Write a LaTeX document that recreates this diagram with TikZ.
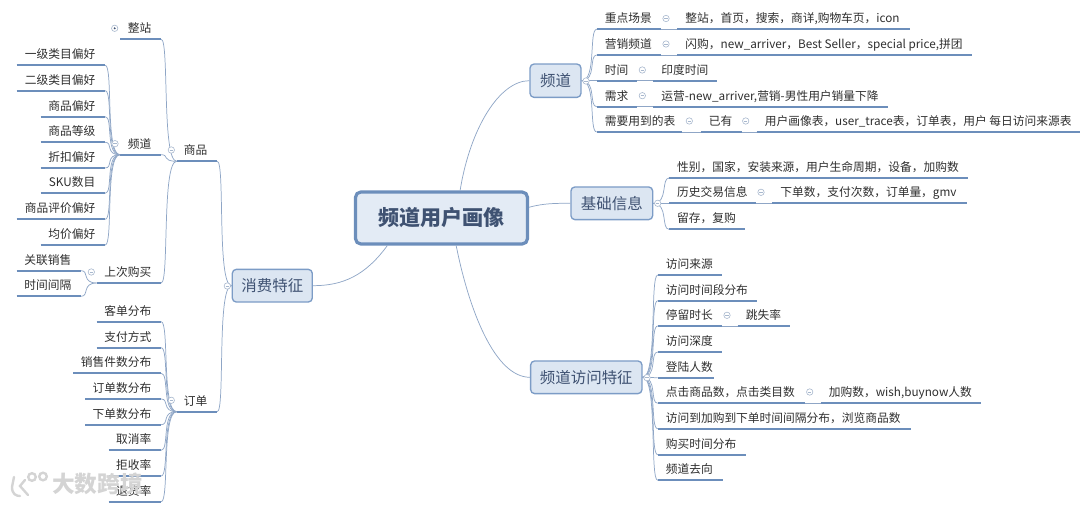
\documentclass[tikz,border=0pt]{standalone}
\usepackage{fontspec}
\setmainfont{Noto Sans CJK SC}
\usetikzlibrary{calc}
\definecolor{linkc}{HTML}{8FA6C6}
\definecolor{ulc}{HTML}{6C8EBB}
\definecolor{boxfill}{HTML}{DCE6F2}
\definecolor{boxline}{HTML}{7C9CC6}
\definecolor{txtc}{HTML}{2E2E2E}
\definecolor{headc}{HTML}{3F5272}
\definecolor{foldc}{HTML}{A8B8CE}
\definecolor{wmc}{HTML}{D4D4D4}
\tikzset{
  leaf/.style={inner xsep=0pt,inner ysep=0pt,text depth=4.6pt,text height=9pt,text=txtc,font=\fontsize{8.8pt}{10pt}\selectfont,
    append after command={(\tikzlastnode.south west) edge[uline] (\tikzlastnode.south east)}},
  uline/.style={draw=ulc,line width=1.5pt},
  link/.style={draw=linkc,line width=0.55pt},
  fold/.style={circle,draw=foldc,fill=white,line width=0.45pt,minimum size=4.8pt,inner sep=0pt,
    path picture={\draw[foldc,line width=0.4pt] ([xshift=-1.2pt]path picture bounding box.center) -- ([xshift=1.2pt]path picture bounding box.center);}},
  folddot/.style={circle,draw=foldc,fill=white,line width=0.45pt,minimum size=4.8pt,inner sep=0pt,
    path picture={\fill[headc] (path picture bounding box.center) circle (0.8pt);}},
  branch/.style={draw=boxline,fill=boxfill,rounded corners=3pt,line width=1pt,text=headc,anchor=center,inner sep=0pt,font=\fontsize{11.6pt}{13pt}\selectfont},
  mainbox/.style={draw=ulc,fill=boxfill!80!white,rounded corners=4pt,line width=2.4pt,text=headc,inner sep=0pt,font=\fontsize{15.8pt}{18pt}\selectfont\bfseries},
  wm/.style={text=wmc,inner sep=0pt,font=\fontsize{17pt}{19pt}\selectfont\bfseries}
}
% right-side topic: name, x1, x2, y, text
\newcommand{\topR}[5]{\pgfmathsetmacro{\boxw}{(#3-#2)*0.75}\node[leaf,anchor=south west] (#1) at (#2,#4) {\makebox[\boxw pt][l]{\hspace{5.9pt}#5}};}
% left-side topic: name, x1, x2, y, text
\newcommand{\topL}[5]{\pgfmathsetmacro{\boxw}{(#3-#2)*0.75}\node[leaf,anchor=south west] (#1) at (#2,#4) {\makebox[\boxw pt][r]{#5\hspace{7.3pt}}};}
% connectors
\newcommand{\linkR}[2]{\draw[link] (#1) .. controls +(15,0) and ($(#2.south west)+(-8,0)$) .. (#2.south west);}
\newcommand{\linkL}[2]{\draw[link] (#1) .. controls +(-15,0) and ($(#2.south east)+(8,0)$) .. (#2.south east);}
\begin{document}
\begin{tikzpicture}[x=0.75pt,y=-0.75pt]
\useasboundingbox (0,0) rectangle (1080,505);
% central and main branches
\node[mainbox,minimum width=129pt,minimum height=39pt] (main) at (441.5,218) {频道用户画像};
\node[branch,minimum width=38.2pt,minimum height=25pt] (pd) at (555.5,80.7) {频道};
\node[branch,minimum width=61.3pt,minimum height=24.5pt] (jc) at (611.8,203.3) {基础信息};
\node[branch,minimum width=83.5pt,minimum height=24.5pt] (fw) at (586.3,377.3) {频道访问特征};
\node[branch,minimum width=60pt,minimum height=24.5pt] (xf) at (272.3,285.7) {消费特征};
\draw[link] (main.56) .. controls +(10,-62) and ($(pd.west)+(-30,0)$) .. (pd.west);
\draw[link] (main.7) .. controls +(15,-4) and ($(jc.west)+(-15,0)$) .. (jc.west);
\draw[link] (main.-62) .. controls +(13,65) and ($(fw.west)+(-35,0)$) .. (fw.west);
\draw[link] (main.207.7) .. controls +(-22,30) and ($(xf.east)+(30,0)$) .. (xf.east);
% 频道 branch
\topR{a1}{596.7}{660}{29.3}{重点场景}
\topR{a1x}{677.3}{909.3}{29.3}{整站，首页，搜索，商详,购物车页，icon}
\topR{a2}{596.7}{660}{55}{营销频道}
\topR{a2x}{677.3}{971.3}{55}{闪购，new\_arriver，Best Seller，special price,拼团}
\topR{a3}{596.7}{636.7}{80.7}{时间}
\topR{a3x}{653.3}{716.3}{80.7}{印度时间}
\topR{a4}{596.7}{636.7}{106.7}{需求}
\topR{a4x}{653.3}{887.3}{106.7}{运营-new\_arriver,营销-男性用户销量下降}
\topR{a5}{596.7}{681.7}{132}{需要用到的表}
\topR{a5x}{700.7}{741}{132}{已有}
\topR{a5y}{756.7}{1080}{132}{用户画像表，user\_trace表，订单表，用户 每日访问来源表}
\foreach \c in {a1,a2,a3,a4,a5} {\linkR{pd.east}{\c}}
\draw[link] (a1.south east) -- (a1x.south west);
\draw[link] (a2.south east) -- (a2x.south west);
\draw[link] (a3.south east) -- (a3x.south west);
\draw[link] (a4.south east) -- (a4x.south west);
\draw[link] (a5.south east) -- (a5x.south west);
\draw[link] (a5x.south east) -- (a5y.south west);
% 基础信息 branch
\topR{b1}{669}{967.7}{178}{性别，国家，安装来源，用户生命周期，设备，加购数}
\topR{b2}{669}{755}{203.3}{历史交易信息}
\topR{b2x}{772.3}{966}{203.3}{下单数，支付次数，订单量，gmv}
\topR{b3}{669}{744}{229.3}{留存，复购}
\foreach \c in {b1,b2,b3} {\linkR{jc.east}{\c}}
\draw[link] (b2.south east) -- (b2x.south west);
% 频道访问特征 branch
\topR{c1}{657.7}{721.3}{275}{访问来源}
\topR{c2}{657.7}{756}{300.7}{访问时间段分布}
\topR{c3}{657.7}{721.3}{326}{停留时长}
\topR{c3x}{737.7}{789.3}{326}{跳失率}
\topR{c4}{657.7}{721.3}{352}{访问深度}
\topR{c5}{657.7}{713}{377.7}{登陆人数}
\topR{c6}{657.7}{804}{403.3}{点击商品数，点击类目数}
\topR{c6x}{820.7}{980}{403.3}{加购数，wish,buynow人数}
\topR{c7}{657.7}{910}{428.7}{访问到加购到下单时间间隔分布，浏览商品数}
\topR{c8}{657.7}{745}{454.7}{购买时间分布}
\topR{c9}{657.7}{722}{480.3}{频道去向}
\foreach \c in {c1,c2,c3,c4,c5,c6,c7,c8,c9} {\linkR{fw.east}{\c}}
\draw[link] (c3.south east) -- (c3x.south west);
\draw[link] (c6.south east) -- (c6x.south west);
% 消费特征 branch
\topL{sp}{176.7}{216.7}{161.3}{商品}
\topL{dd}{176.7}{216.7}{411.7}{订单}
\linkL{xf.west}{sp}
\linkL{xf.west}{dd}
\topL{s1}{120}{160.7}{39.3}{整站}
\topL{s2}{120}{160.7}{154.7}{频道}
\topL{s3}{96.7}{160.7}{283}{上次购买}
\foreach \c in {s1,s2,s3} {\linkL{sp.south west}{\c}}
\topL{p1}{16.7}{104.7}{65.3}{一级类目偏好}
\topL{p2}{16.7}{104.7}{90.7}{二级类目偏好}
\topL{p3}{40.7}{104.7}{116.7}{商品偏好}
\topL{p4}{40.7}{104.7}{142.3}{商品等级}
\topL{p5}{40.7}{104.7}{168}{折扣偏好}
\topL{p6}{40.7}{104.7}{193.3}{SKU数目}
\topL{p7}{16.7}{104.7}{219.3}{商品评价偏好}
\topL{p8}{40.7}{104.7}{245}{均价偏好}
\foreach \c in {p1,p2,p3,p4,p5,p6,p7,p8} {\linkL{s2.south west}{\c}}
\topL{q1}{16.7}{80.7}{270.7}{关联销售}
\topL{q2}{16.7}{80.7}{296.3}{时间间隔}
\foreach \c in {q1,q2} {\linkL{s3.south west}{\c}}
\topL{d1}{96.7}{160.7}{321.7}{客单分布}
\topL{d2}{96.7}{160.7}{347.7}{支付方式}
\topL{d3}{73.3}{160.7}{373.3}{销售件数分布}
\topL{d4}{85}{160.7}{399}{订单数分布}
\topL{d5}{85}{160.7}{424.7}{下单数分布}
\topL{d6}{108.7}{160.7}{450.3}{取消率}
\topL{d7}{108.7}{160.7}{476}{拒收率}
\topL{d8}{108.7}{160.7}{501.7}{退货率}
\foreach \c in {d1,d2,d3,d4,d5,d6,d7,d8} {\linkL{dd.south west}{\c}}
% fold markers
\node[fold] (f1) at (586,81) {};
\node[fold] (f2) at (666,18.5) {};
\node[fold] (f3) at (666,44) {};
\node[fold] (f4) at (642.3,70) {};
\node[fold] (f5) at (642.3,95.7) {};
\node[fold] (f6) at (689.3,121) {};
\node[fold] (f7) at (745.7,121) {};
\node[fold] (f8) at (657.7,203.3) {};
\node[fold] (f9) at (761,192.3) {};
\node[fold] (f10) at (647,377.7) {};
\node[fold] (f11) at (727,315.3) {};
\node[fold] (f12) at (809.7,392) {};
\node[fold] (f13) at (227.3,286) {};
\node[fold] (f14) at (171.3,150) {};
\node[fold] (f15) at (171.3,400.3) {};
\node[folddot] (f16) at (114.7,28.3) {};
\node[fold] (f17) at (115,143.7) {};
\node[fold] (f18) at (91.3,272) {};
% watermark
\node[wm,anchor=west] (wmark) at (52,484) {大数跨境};
\begin{scope}[wmc,line width=1.8pt,line cap=round]
\draw (14,477) -- (12,487) .. controls (12,494) and (16,496) .. (20,496);
\draw (25,480) -- (20,486) -- (28,495);
\draw (32,477) circle (3.8);
\draw (43,476.5) circle (3.8);
\end{scope}
\end{tikzpicture}
\end{document}
